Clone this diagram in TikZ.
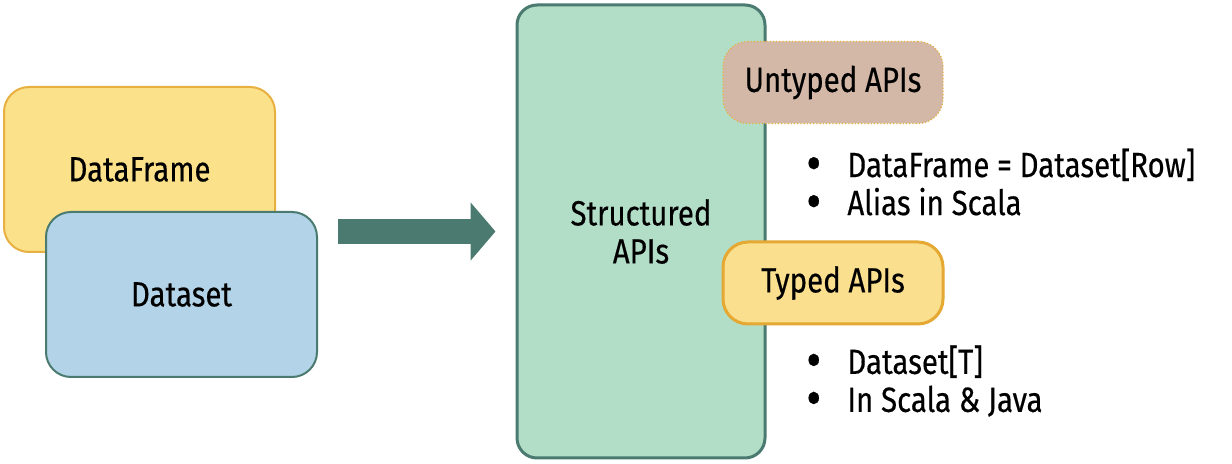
\documentclass[tikz,border=0pt]{standalone}
\usepackage{fontspec}
\setmainfont[FakeStretch=0.84,FakeBold=0.4]{Fira Sans}
\usetikzlibrary{arrows.meta}
\definecolor{frameyellow}{HTML}{FBE18A}
\definecolor{frameedge}{HTML}{E8B040}
\definecolor{setblue}{HTML}{B3D4E8}
\definecolor{tealedge}{HTML}{4A7A70}
\definecolor{structgreen}{HTML}{B2DEC8}
\definecolor{untypedtan}{HTML}{D3B8A8}
\definecolor{typedyellow}{HTML}{F9DF8E}
\definecolor{typededge}{HTML}{E5A833}
\begin{document}
\begin{tikzpicture}[x=0.5pt,y=-0.5pt,
		box/.style={draw, line width=1pt, rounded corners=12.5pt, inner sep=0pt,
			align=center, font=\fontsize{17.5}{19}\selectfont},
		bigbox/.style={box, minimum width=135.5pt, minimum height=82.5pt},
		apibox/.style={box, minimum width=110pt, minimum height=41pt},
		bullets/.style={anchor=west, align=left, inner sep=0pt,
			font=\fontsize{17.5}{19}\selectfont}]
	\useasboundingbox (0,0) rectangle (1232,464);
	\newcommand{\bul}{\makebox[20.5pt][l]{\raisebox{-2.3pt}[0pt][0pt]{\scalebox{1.55}{\textbullet}}}}

	\node (frame) [bigbox, fill=frameyellow, draw=frameedge] at (139.5,169.5) {DataFrame};
	\node (dataset) [bigbox, fill=setblue, draw=tealedge] at (181.5,294.5) {Dataset};

	\node (struct) [box, fill=structgreen, draw=tealedge, line width=1.5pt, rounded corners=10pt,
		minimum width=124pt, minimum height=226.5pt] at (641,231.5) {Structured\\APIs};
	\node (untyped) [apibox, fill=untypedtan, draw=frameedge, line width=.6pt, densely dotted] at (833,82.5) {Untyped APIs};
	\node (typed) [apibox, fill=typedyellow, draw=typededge, line width=1.5pt] at (833,283) {Typed APIs};

	\node (untypedlist) [bullets] at (806,182) {\bul DataFrame = Dataset[Row]\\ \bul Alias in Scala};
	\node (typedlist) [bullets] at (806,381) {\bul Dataset[T]\\ \bul In Scala \& Java};

	\draw [tealedge, line width=12.5pt, -{Triangle[length=12.5pt,width=28.5pt]}]
		([xshift=10pt]dataset.east |- struct.west) -- ([xshift=-10pt]struct.west);
\end{tikzpicture}
\end{document}
